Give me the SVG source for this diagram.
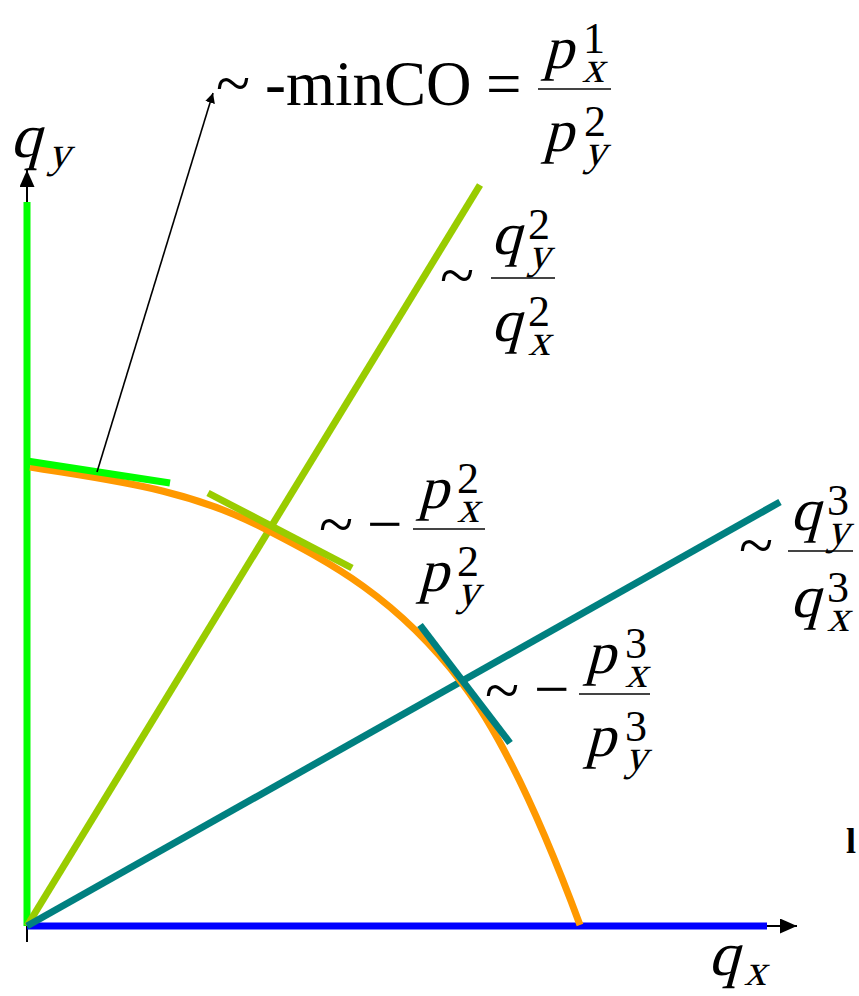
<svg xmlns="http://www.w3.org/2000/svg" width="859" height="996" viewBox="0 0 859 996">
<style>
.t{font-family:"Liberation Serif","Times New Roman",serif;fill:#000}
.m{font-size:63px}
.v{font-size:60px}
.s{font-size:44px}
.d{font-size:44px}
.bar{stroke:#444;stroke-width:2}
.thick{fill:none;stroke-width:7;stroke-linecap:butt}
</style>
<defs>
<marker id="ah" viewBox="0 0 10 10" refX="10" refY="5" markerWidth="10" markerHeight="10" markerUnits="userSpaceOnUse" orient="auto">
<path d="M0,0 L10,5 L0,10 z" fill="#000"/>
</marker>
<marker id="axh" viewBox="0 0 17 15" refX="17" refY="7.5" markerWidth="17" markerHeight="15" markerUnits="userSpaceOnUse" orient="auto">
<path d="M0,0 L17,7.5 L0,15 z" fill="#000"/>
</marker>
</defs>
<rect width="859" height="996" fill="#fff"/>
<g id="connectors">
<line x1="27" y1="942" x2="27" y2="170" stroke="#000" stroke-width="2" marker-end="url(#axh)"/>
<line x1="27" y1="926" x2="797" y2="926" stroke="#000" stroke-width="2" marker-end="url(#axh)"/>
<line x1="27" y1="202" x2="27" y2="926" class="thick" stroke="#00ff00" stroke-width="8"/>
<line x1="27" y1="926" x2="767" y2="926" class="thick" stroke="#0000ff" stroke-width="8"/>
<line x1="27" y1="926" x2="480" y2="185" class="thick" stroke="#99cc00"/>
<line x1="27" y1="926" x2="780" y2="502" class="thick" stroke="#008080"/>
<path d="M30,467 C108,480 187,488 265,529 C331,563 396,597 462,683 C501,734 541,820 580,925" class="thick" stroke="#ff9900"/>
<line x1="27" y1="461" x2="170" y2="483" class="thick" stroke="#00ff00"/>
<line x1="208" y1="493" x2="352" y2="568" class="thick" stroke="#99cc00"/>
<line x1="420" y1="625" x2="510" y2="743" class="thick" stroke="#008080"/>
<line x1="97" y1="472" x2="213" y2="93" stroke="#000" stroke-width="1.6" marker-end="url(#ah)"/>
</g>
<g id="label-minCO">
<text class="t m" x="216" y="105">~</text>
<text class="t m" x="265" y="105">-minCO</text>
<text class="t m" x="486" y="105">=</text>
<line class="bar" x1="538" y1="89" x2="611" y2="89"/>
<text class="t v" transform="translate(543,68) skewX(-15)">p</text>
<text class="t d" x="583" y="53">1</text>
<text class="t s" transform="translate(582,82) skewX(-15)">x</text>
<text class="t v" transform="translate(543,151) skewX(-15)">p</text>
<text class="t d" x="584" y="136">2</text>
<text class="t s" transform="translate(584,165) skewX(-15)">y</text>
</g>
<g id="label-q2">
<text class="t m" x="440" y="297">~</text>
<line class="bar" x1="491" y1="278" x2="555" y2="278"/>
<text class="t v" transform="translate(491,254) skewX(-15)">q</text>
<text class="t d" x="528" y="239">2</text>
<text class="t s" transform="translate(528,268) skewX(-15)">y</text>
<text class="t v" transform="translate(491,341) skewX(-15)">q</text>
<text class="t d" x="528" y="326">2</text>
<text class="t s" transform="translate(528,355) skewX(-15)">x</text>
</g>
<g id="label-p2">
<text class="t m" x="319" y="546">~</text>
<text class="t m" x="367" y="545">−</text>
<line class="bar" x1="413" y1="529" x2="485" y2="529"/>
<text class="t v" transform="translate(418,508) skewX(-15)">p</text>
<text class="t d" x="457" y="493">2</text>
<text class="t s" transform="translate(457,522) skewX(-15)">x</text>
<text class="t v" transform="translate(418,591) skewX(-15)">p</text>
<text class="t d" x="457" y="576">2</text>
<text class="t s" transform="translate(457,605) skewX(-15)">y</text>
</g>
<g id="label-p3">
<text class="t m" x="485" y="712">~</text>
<text class="t m" x="534" y="710">−</text>
<line class="bar" x1="579" y1="694" x2="650" y2="694"/>
<text class="t v" transform="translate(585,673) skewX(-15)">p</text>
<text class="t d" x="625" y="658">3</text>
<text class="t s" transform="translate(625,687) skewX(-15)">x</text>
<text class="t v" transform="translate(585,756) skewX(-15)">p</text>
<text class="t d" x="625" y="741">3</text>
<text class="t s" transform="translate(625,770) skewX(-15)">y</text>
</g>
<g id="label-q3">
<text class="t m" x="739" y="567">~</text>
<line class="bar" x1="788" y1="551" x2="853" y2="551"/>
<text class="t v" transform="translate(790,530) skewX(-15)">q</text>
<text class="t d" x="827" y="515">3</text>
<text class="t s" transform="translate(827,544) skewX(-15)">y</text>
<text class="t v" transform="translate(790,617) skewX(-15)">q</text>
<text class="t d" x="827" y="602">3</text>
<text class="t s" transform="translate(827,631) skewX(-15)">x</text>
</g>
<g id="axis-labels">
<text class="t v" transform="translate(10,157) skewX(-15)" style="font-size:62px">q</text>
<text class="t s" transform="translate(48,167) skewX(-15)">y</text>
<text class="t v" transform="translate(708,975) skewX(-15)" style="font-size:62px">q</text>
<text class="t s" transform="translate(744,985) skewX(-15)">x</text>
<text class="t" x="846" y="853" style="font-size:36px;font-weight:bold">l</text>
</g>
</svg>
